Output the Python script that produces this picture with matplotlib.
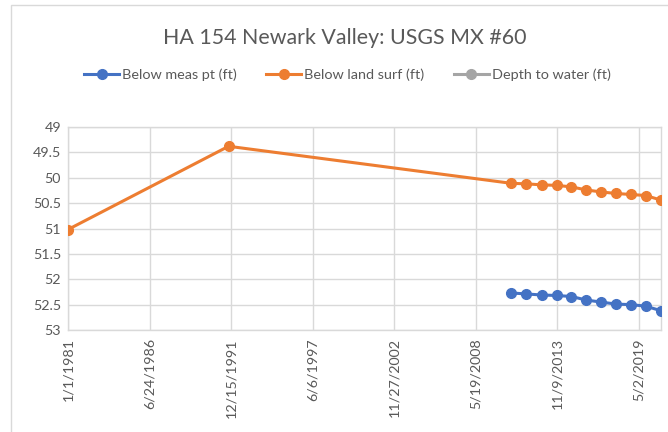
import matplotlib
matplotlib.use("Agg")
import matplotlib.pyplot as plt
import matplotlib.dates as mdates
from matplotlib.ticker import FixedLocator, FuncFormatter
from matplotlib.patches import Rectangle
import datetime as dt

plt.rcParams['font.family'] = ['Lato', 'DejaVu Sans']

title = "HA 154 Newark Valley: USGS MX #60"
series_names = ["Below meas pt (ft)", "Below land surf (ft)", "Depth to water (ft)"]
colors = ["#4472C4", "#ED7D31", "#A5A5A5"]

land_dates = ["1981-01-01", "1991-10-16", "2010-10-15", "2011-10-20", "2012-10-23",
              "2013-10-27", "2014-10-28", "2015-10-25", "2016-10-26", "2017-10-30",
              "2018-10-28", "2019-10-20", "2020-11-01"]
land_vals = [51.02, 49.38, 50.11, 50.12, 50.14, 50.15, 50.18, 50.24, 50.28, 50.31,
             50.33, 50.35, 50.44]

meas_dates = ["2010-10-15", "2011-10-20", "2012-10-23", "2013-10-27", "2014-10-28",
              "2015-10-25", "2016-10-26", "2017-10-30", "2018-10-28", "2019-10-20",
              "2020-11-01"]
meas_vals = [52.27, 52.29, 52.31, 52.32, 52.34, 52.41, 52.45, 52.49, 52.50, 52.53, 52.62]

depth_dates = []
depth_vals = []

y_ticks = [49, 49.5, 50, 50.5, 51, 51.5, 52, 52.5, 53]

def to_dt(lst):
    return [dt.datetime.strptime(s, "%Y-%m-%d") for s in lst]

fig = plt.figure(figsize=(6.68, 4.32), dpi=100)
fig.patches.append(Rectangle((11/668, -0.05), 1.2, 1 - 5/432 + 0.05, transform=fig.transFigure,
                             fill=False, edgecolor="#D9D9D9", linewidth=1.0))
ax = fig.add_axes([68/668, 1 - 330/432, (661 - 68)/668, (330 - 127)/432])

lw = 2.2
ms = 7
h1, = ax.plot(to_dt(meas_dates), meas_vals, color=colors[0], lw=lw, marker='o', ms=ms, zorder=3)
h2, = ax.plot(to_dt(land_dates), land_vals, color=colors[1], lw=lw, marker='o', ms=ms, zorder=3)
h3, = ax.plot(to_dt(depth_dates), depth_vals, color=colors[2], lw=lw, marker='o', ms=ms, zorder=3)

start = mdates.date2num(to_dt(land_dates)[0])
end = mdates.date2num(to_dt(land_dates)[-1])
ax.set_xlim(start, end)
xt = [start + 2000 * i for i in range(8)]
ax.xaxis.set_major_locator(FixedLocator(xt))
def fmt_date(v, pos):
    d = mdates.num2date(v)
    return f"{d.month}/{d.day}/{d.year}"
ax.xaxis.set_major_formatter(FuncFormatter(fmt_date))

ax.set_ylim(53, 49)
ax.yaxis.set_major_locator(FixedLocator(y_ticks))
ax.yaxis.set_major_formatter(FuncFormatter(lambda v, p: f"{v:g}"))

ax.grid(True, color="#D9D9D9", linewidth=1.0)
ax.set_axisbelow(True)
for s in ax.spines.values():
    s.set_color("#D9D9D9")
    s.set_linewidth(1.0)
ax.tick_params(axis='both', length=0, colors="#595959", labelsize=10.3, pad=5)
ax.tick_params(axis='x', rotation=90, pad=6)

fig.text(0.516, 1 - 38/432, title, ha='center', va='center', fontsize=15.4, color="#595959")
fig.legend([h1, h2, h3], series_names, loc='center', bbox_to_anchor=(0.520, 1 - 75/432),
           ncol=3, frameon=False, fontsize=10.4, handlelength=2.42, columnspacing=2.05,
           handletextpad=0.2, labelcolor="#595959")

fig.savefig("out.png", dpi=100)
